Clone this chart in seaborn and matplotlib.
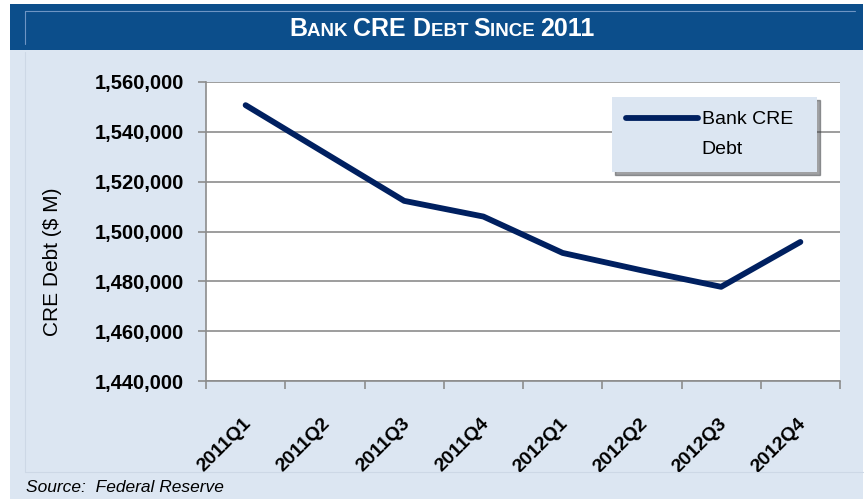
import matplotlib
matplotlib.use("Agg")
import matplotlib.pyplot as plt
import seaborn as sns
import pandas as pd
from matplotlib.patches import Rectangle
from matplotlib.lines import Line2D
from matplotlib.ticker import FuncFormatter
from matplotlib.transforms import ScaledTranslation
from matplotlib.legend_handler import HandlerLine2D
from matplotlib.offsetbox import TextArea, HPacker, AnchoredOffsetbox

"""Data read off the chart"""
quarters = ["2011Q1", "2011Q2", "2011Q3", "2011Q4", "2012Q1", "2012Q2", "2012Q3", "2012Q4"]
debt = [1550700, 1531500, 1512300, 1506000, 1491400, 1484400, 1477800, 1495800]
yticks = [1440000, 1460000, 1480000, 1500000, 1520000, 1540000, 1560000]

df = pd.DataFrame({"quarter": quarters, "debt": debt})

W, H = 867, 499
NAVY = "#002060"
BANNER = "#0C4E8B"
PANEL = "#DCE6F2"
GRID = "#8C8C8C"

sns.set_theme(style="white")
plt.rcParams["font.family"] = ["Liberation Sans", "DejaVu Sans"]
plt.rcParams["text.color"] = "black"
plt.rcParams["axes.labelcolor"] = "black"

fig = plt.figure(figsize=(W / 100, H / 100), dpi=100)
fig.patch.set_facecolor("white")


def fx(x):
    return x / W


def fy(y):
    return 1 - y / H


# background panel + title banner
fig.add_artist(Rectangle((fx(10), 0), fx(853), fy(4), transform=fig.transFigure,
                         facecolor=PANEL, edgecolor="none", zorder=0))
fig.add_artist(Rectangle((fx(10), fy(50)), fx(853), 46 / H, transform=fig.transFigure,
                         facecolor=BANNER, edgecolor="none", zorder=1))
fig.add_artist(Line2D([fx(25), fx(855)], [fy(11), fy(11)], transform=fig.transFigure,
                      color="#6E95C4", lw=0.8, zorder=2))
fig.add_artist(Line2D([fx(25), fx(25)], [fy(11), fy(44)], transform=fig.transFigure,
                      color="#6E95C4", lw=0.8, zorder=2))
fig.add_artist(Line2D([fx(25), fx(25)], [fy(52), fy(472)], transform=fig.transFigure,
                      color="#CDD8E6", lw=0.8, zorder=2))
fig.add_artist(Line2D([fx(25), fx(863)], [fy(472), fy(472)], transform=fig.transFigure,
                      color="#CDD8E6", lw=0.8, zorder=2))

# small-caps title
parts = [("B", 18), ("ANK ", 13.5), ("CRE ", 18), ("D", 18), ("EBT ", 13.5),
         ("S", 18), ("INCE ", 13.5), ("2011", 18)]
boxes = [TextArea(t, textprops=dict(color="white", fontsize=s, fontweight="bold"))
         for t, s in parts]
pack = HPacker(children=boxes, align="baseline", pad=0, sep=0)
title = AnchoredOffsetbox(loc="center", child=pack, frameon=False, pad=0, borderpad=0,
                          bbox_to_anchor=(fx(442), fy(29)), bbox_transform=fig.transFigure)
fig.add_artist(title)

# plot area
ax = fig.add_axes([fx(206), 1 - 381 / H, 634 / W, 299 / H])
ax.set_facecolor("white")

sns.lineplot(data=df, x="quarter", y="debt", ax=ax, color=NAVY, lw=4.2,
             label="Bank CRE  \nDebt", sort=False, solid_capstyle="round")

ax.set_xlim(-0.5, 7.5)
ax.set_ylim(1440000, 1560000)
ax.set_yticks(yticks)
ax.yaxis.set_major_formatter(FuncFormatter(lambda v, p: f"{v:,.0f}"))
ax.yaxis.grid(True, color=GRID, lw=1.2)
ax.set_axisbelow(True)

ax.set_xticks(range(len(quarters)))
ax.set_xticklabels(quarters, rotation=45, ha="right", va="center",
                   rotation_mode="anchor", fontweight="bold", fontsize=14)
ax.set_xticks([i - 0.5 for i in range(len(quarters) + 1)], minor=True)
ax.tick_params(axis="x", which="major", length=0, pad=29, bottom=True, labelcolor="black")
ax.tick_params(axis="x", which="minor", length=6, width=1.2, color=GRID, direction="out", bottom=True)
ax.tick_params(axis="y", which="major", length=6, width=1.2, color=GRID, direction="out",
               left=True, pad=10, labelsize=14.5, labelcolor="black")
for lab in ax.get_yticklabels():
    lab.set_fontweight("bold")
shift = ScaledTranslation(3 / 100, 0, fig.dpi_scale_trans)
for lab in ax.get_xticklabels():
    lab.set_transform(lab.get_transform() + shift)

for side in ["top", "right"]:
    ax.spines[side].set_visible(False)
for side in ["left", "bottom"]:
    ax.spines[side].set_color(GRID)
    ax.spines[side].set_linewidth(1.2)

ax.set_xlabel("")
ax.set_ylabel("CRE Debt ($ M)", fontsize=15, color="black")
ax.yaxis.set_label_coords((62 - 206) / 634, (381 - 262) / 299)


class FirstLineHandler(HandlerLine2D):
    """put the legend line next to the first text line, with a gap on its left"""
    def create_artists(self, legend, orig_handle, xdescent, ydescent, width, height, fontsize, trans):
        arts = super().create_artists(legend, orig_handle, xdescent, ydescent, width, height, fontsize, trans)
        for a in arts:
            xd = list(a.get_xdata())
            if len(xd) == 2:
                a.set_xdata([-xdescent + 0.227 * width, -xdescent + width])
            a.set_ydata([y + 0.85 * fontsize for y in a.get_ydata()])
            a.set_solid_capstyle("round")
        return arts


handles, labels = ax.get_legend_handles_labels()
leg = ax.legend(handles, labels, loc="upper left",
                bbox_to_anchor=((612 - 206) / 634, (381 - 97) / 299),
                borderaxespad=0, frameon=True, fancybox=False, shadow=True,
                facecolor=PANEL, edgecolor="none", fontsize=14, handlelength=3.72,
                borderpad=0.7, handletextpad=0.2,
                handler_map={Line2D: FirstLineHandler()})
leg.get_frame().set_alpha(1)
for t in leg.get_texts():
    t.set_linespacing(2.05)

fig.text(fx(26), fy(487), "Source:  Federal Reserve", fontsize=12.5, style="italic",
         va="center", ha="left", color="black")

fig.savefig("out.png", dpi=100, facecolor=fig.get_facecolor())
